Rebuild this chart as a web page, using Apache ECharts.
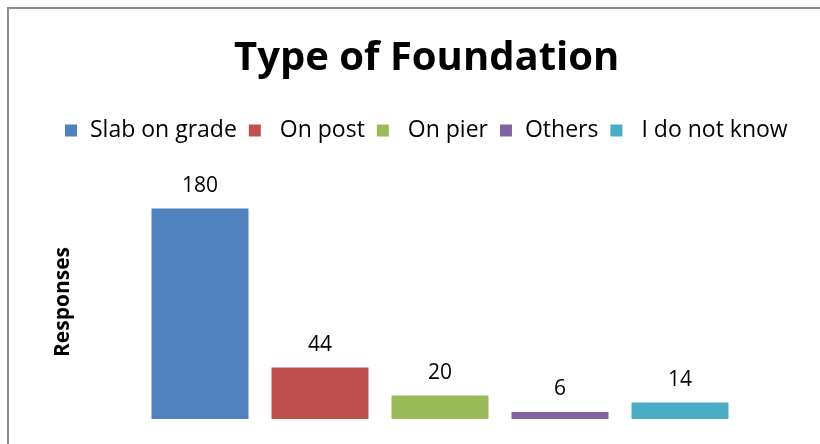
<html>
<head>
    <meta http-equiv="Content-Type" content="text/html; charset=utf-8" />
</head>
<script type="text/javascript" src="https://cdn.jsdelivr.net/npm/echarts@6/dist/echarts.min.js"></script>
<body style="margin:0">
<div id="main" style="width: 820px;height:444px;"></div>
</body>
<script type="text/javascript">
    // categories and values
    var categories = ['Slab on grade', ' On post', ' On pier', 'Others', ' I do not know'];
    var values = [180, 44, 20, 6, 14];
    var colors = ['#4f81bd', '#c0504d', '#9bbb59', '#8064a2', '#4bacc6'];

    var font = 'Open Sans';

    var series = [];
    for (var i = 0; i < categories.length; i++) {
        var d = [];
        for (var j = 0; j < categories.length; j++) {
            d.push(j === i ? values[i] : '-');
        }
        series.push({
            name: categories[i],
            type: 'bar',
            stack: 'all',
            barWidth: 97,
            itemStyle: { color: colors[i] },
            label: {
                show: true,
                position: 'top',
                distance: 12,
                color: '#000',
                fontFamily: font,
                fontSize: 21
            },
            data: d
        });
    }

    var myChart = echarts.init(document.getElementById('main'));
    myChart.setOption({
        animation: false,
        title: {
            text: 'Type of Foundation',
            left: 229,
            top: 34,
            textStyle: { fontFamily: font, fontSize: 40, fontWeight: 'bold', color: '#000' }
        },
        legend: {
            left: 60,
            top: 114,
            itemWidth: 12,
            itemHeight: 12,
            itemGap: 12,
            icon: 'rect',
            textStyle: { fontFamily: font, fontSize: 23, color: '#000', padding: [0, 0, 0, 8] },
            data: categories
        },
        grid: { left: 140, right: 80, top: 185, bottom: 25 },
        xAxis: {
            type: 'category',
            data: categories,
            axisLine: { show: false },
            axisTick: { show: false },
            axisLabel: { show: false }
        },
        yAxis: {
            type: 'value',
            min: 0,
            max: 200,
            name: 'Responses',
            nameLocation: 'middle',
            nameGap: 66,
            nameTextStyle: { fontFamily: font, fontSize: 21, fontWeight: 'bold', color: '#000' },
            axisLine: { show: false },
            axisTick: { show: false },
            axisLabel: { show: false },
            splitLine: { show: false }
        },
        graphic: [{
            type: 'rect',
            shape: { x: 8, y: 8, width: 830, height: 460 },
            style: { fill: 'none', stroke: '#8c8c8c', lineWidth: 2 },
            silent: true
        }],
        series: series
    });
</script>
</html>
